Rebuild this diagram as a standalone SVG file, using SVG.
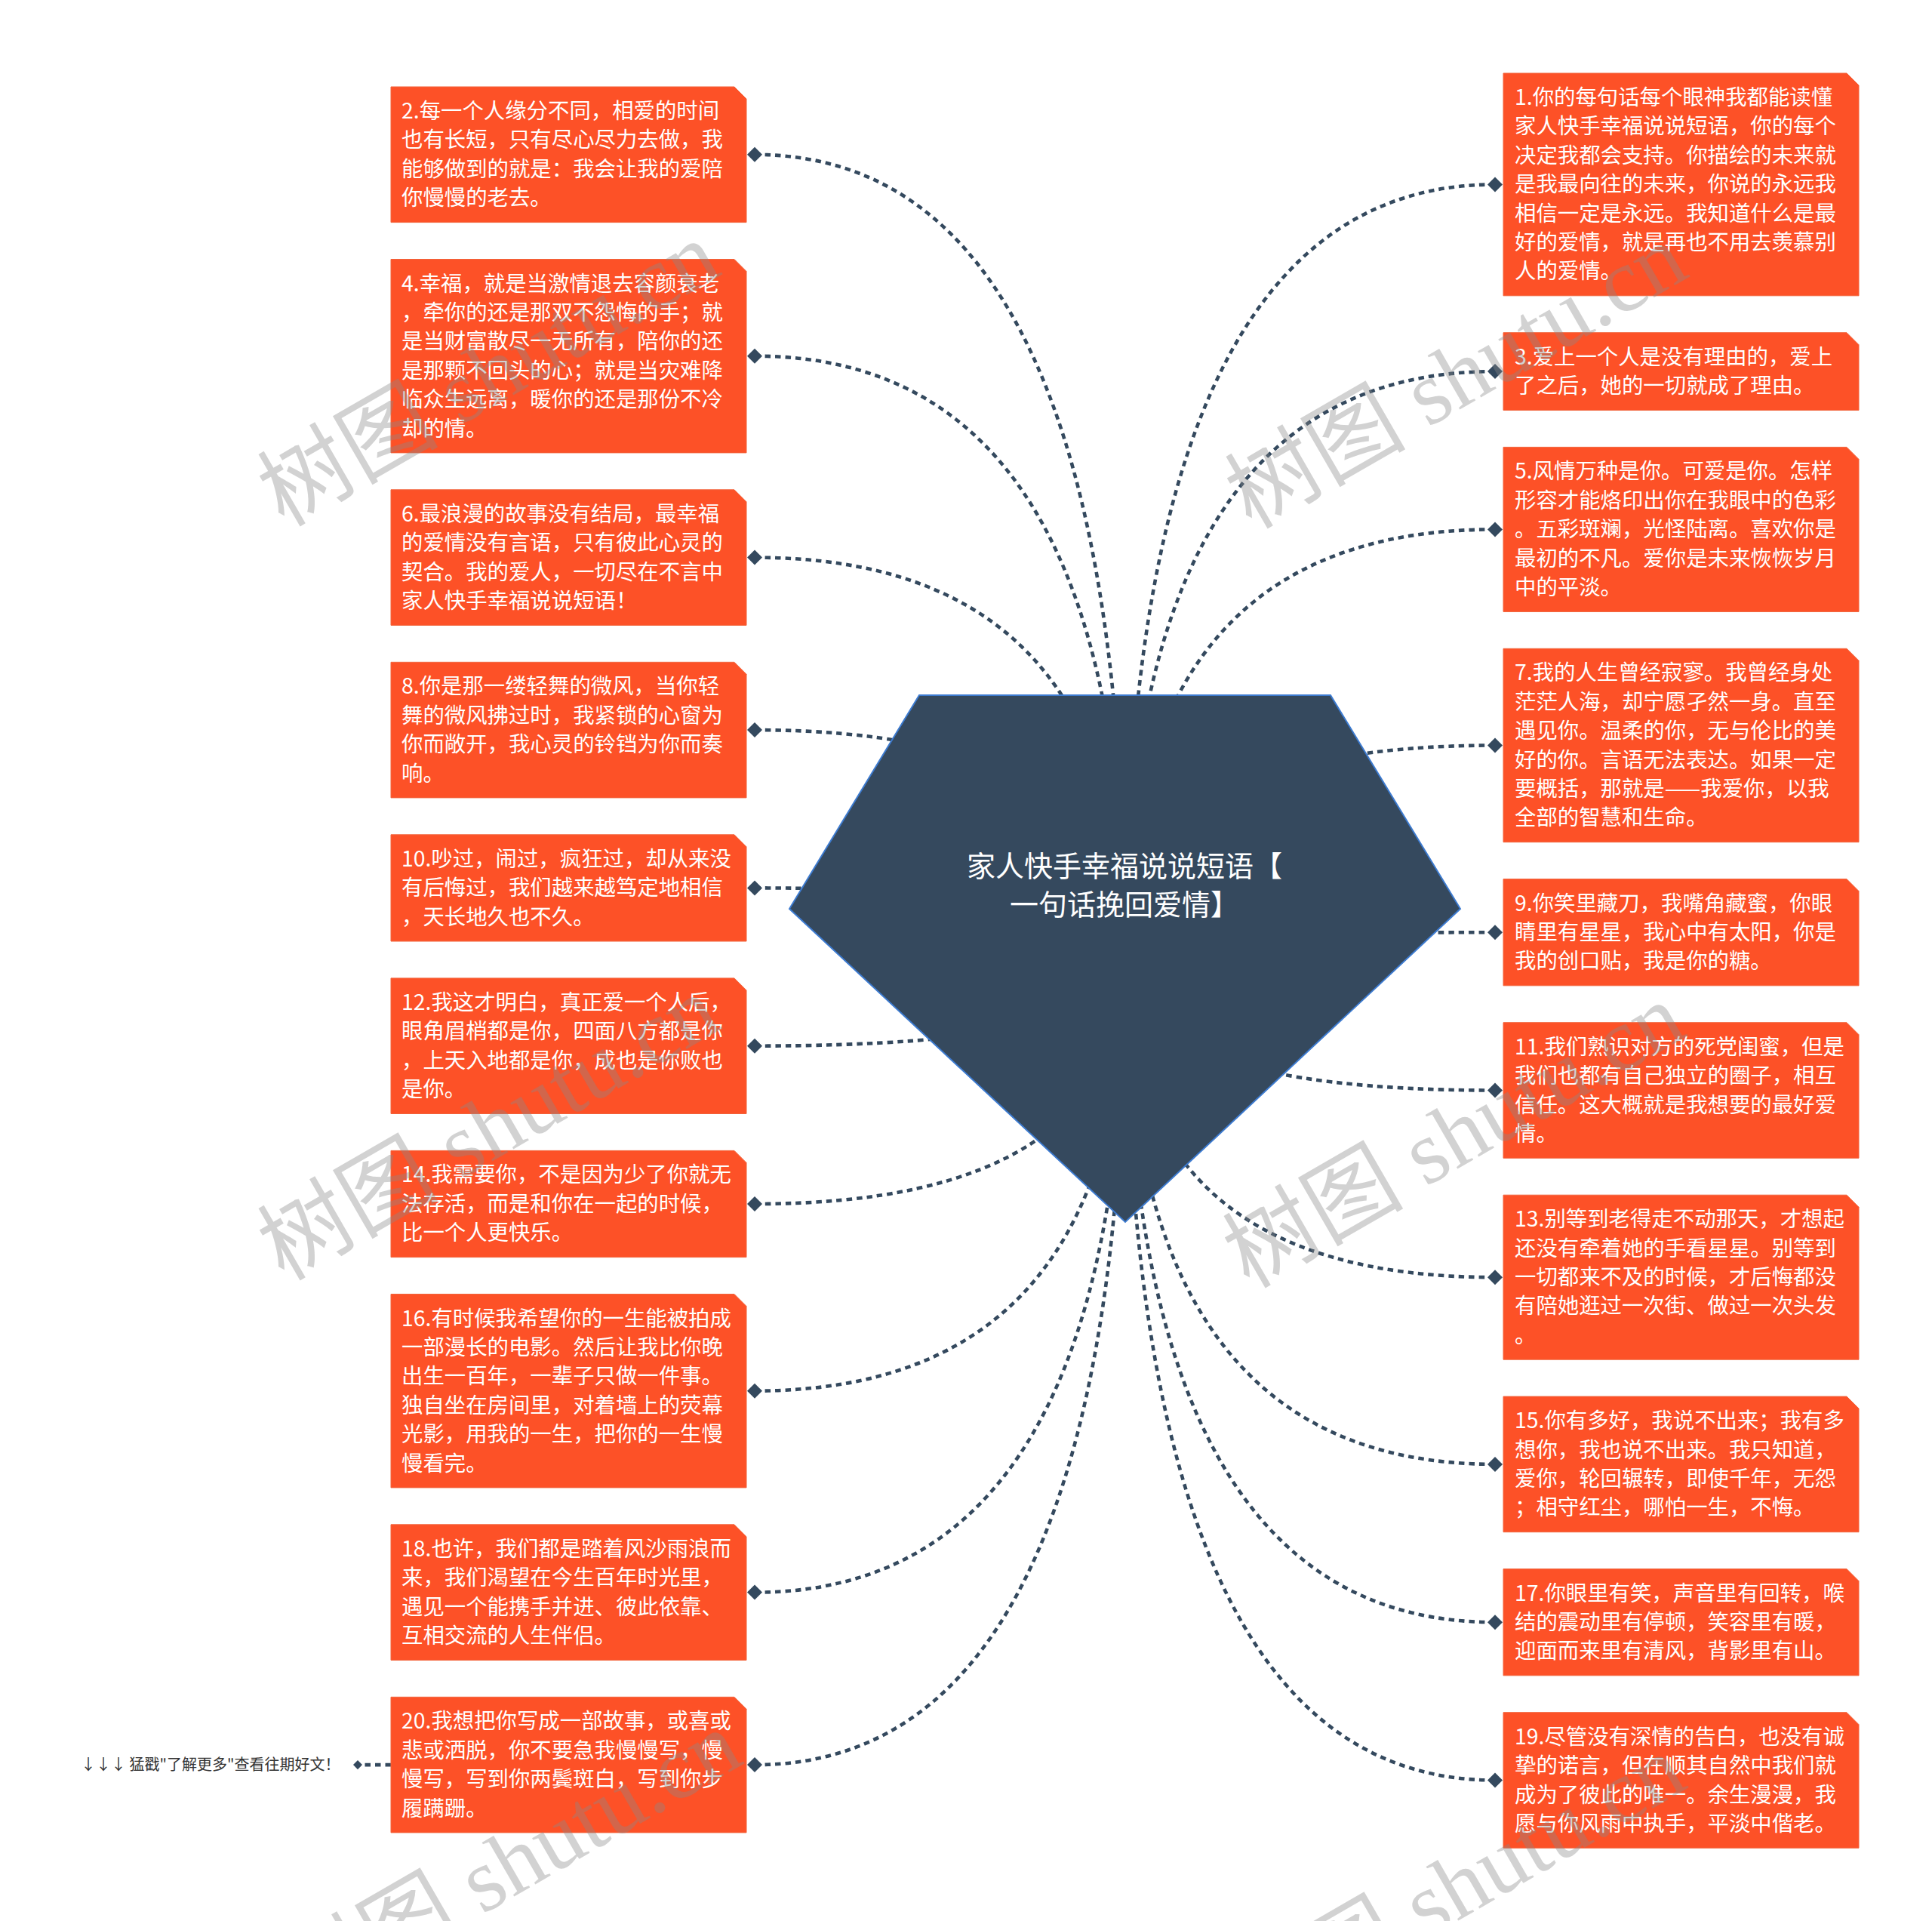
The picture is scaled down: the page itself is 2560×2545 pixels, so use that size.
<svg xmlns="http://www.w3.org/2000/svg" width="2560" height="2545" viewBox="0 0 2560 2545">
<defs>
<style>
.box{fill:#fd5127;stroke:#f2643c;stroke-width:1}
.t{font-family:"Noto Sans CJK SC","Microsoft YaHei",sans-serif;font-size:28.4px;fill:#ffffff}
.conn{fill:none;stroke:#34495e;stroke-width:4.6;stroke-dasharray:7.5 6}
.dia{fill:#34495e}
.ct{font-family:"Noto Sans CJK SC",sans-serif;font-size:38px;fill:#ffffff;text-anchor:middle}
.wm{font-family:"Liberation Serif","Noto Sans CJK SC",serif;font-size:120px;fill:#8a8a8a;fill-opacity:0.38}
.tip{font-family:"Noto Sans CJK SC",sans-serif;font-size:20px;fill:#333333}
</style>
<path id="d" d="M0,-10 L10,0 L0,10 L-10,0 Z"/>
</defs>
<rect width="2560" height="2545" fill="#ffffff"/>
<g id="connectors">
<path class="conn" d="M1000,204.8 Q1491,204.8 1491,1270"/>
<path class="conn" d="M1000,471.7 Q1491,471.7 1491,1270"/>
<path class="conn" d="M1000,738.6 Q1491,738.6 1491,1270"/>
<path class="conn" d="M1000,967.1 Q1491,967.1 1491,1270"/>
<path class="conn" d="M1000,1176.4 Q1491,1176.4 1491,1270"/>
<path class="conn" d="M1000,1385.7 Q1491,1385.7 1491,1270"/>
<path class="conn" d="M1000,1595 Q1491,1595 1491,1270"/>
<path class="conn" d="M1000,1842.7 Q1491,1842.7 1491,1270"/>
<path class="conn" d="M1000,2109.6 Q1491,2109.6 1491,1270"/>
<path class="conn" d="M1000,2338.1 Q1491,2338.1 1491,1270"/>
<path class="conn" d="M1981,244.4 Q1491,244.4 1491,1270"/>
<path class="conn" d="M1981,492.1 Q1491,492.1 1491,1270"/>
<path class="conn" d="M1981,701.4 Q1491,701.4 1491,1270"/>
<path class="conn" d="M1981,987.5 Q1491,987.5 1491,1270"/>
<path class="conn" d="M1981,1235.2 Q1491,1235.2 1491,1270"/>
<path class="conn" d="M1981,1444.5 Q1491,1444.5 1491,1270"/>
<path class="conn" d="M1981,1692.2 Q1491,1692.2 1491,1270"/>
<path class="conn" d="M1981,1939.9 Q1491,1939.9 1491,1270"/>
<path class="conn" d="M1981,2149.2 Q1491,2149.2 1491,1270"/>
<path class="conn" d="M1981,2358.5 Q1491,2358.5 1491,1270"/>
<path class="conn" d="M518,2338.1 L474,2338.1"/>
<use href="#d" class="dia" x="1000" y="204.8"/>
<use href="#d" class="dia" x="1000" y="471.7"/>
<use href="#d" class="dia" x="1000" y="738.6"/>
<use href="#d" class="dia" x="1000" y="967.1"/>
<use href="#d" class="dia" x="1000" y="1176.4"/>
<use href="#d" class="dia" x="1000" y="1385.7"/>
<use href="#d" class="dia" x="1000" y="1595"/>
<use href="#d" class="dia" x="1000" y="1842.7"/>
<use href="#d" class="dia" x="1000" y="2109.6"/>
<use href="#d" class="dia" x="1000" y="2338.1"/>
<use href="#d" class="dia" x="1981" y="244.4"/>
<use href="#d" class="dia" x="1981" y="492.1"/>
<use href="#d" class="dia" x="1981" y="701.4"/>
<use href="#d" class="dia" x="1981" y="987.5"/>
<use href="#d" class="dia" x="1981" y="1235.2"/>
<use href="#d" class="dia" x="1981" y="1444.5"/>
<use href="#d" class="dia" x="1981" y="1692.2"/>
<use href="#d" class="dia" x="1981" y="1939.9"/>
<use href="#d" class="dia" x="1981" y="2149.2"/>
<use href="#d" class="dia" x="1981" y="2358.5"/>
<path class="dia" d="M474,2332 L480,2338.1 L474,2344.2 L468,2338.1 Z"/>
</g>
<g id="center">
<path d="M1218,921 L1763,921 L1935,1204 L1491,1619 L1046,1204 Z" fill="#35495e" stroke="#3d7bd0" stroke-width="2"/>
<text class="ct" x="1490" y="1161">家人快手幸福说说短语【</text>
<text class="ct" x="1490" y="1212">一句话挽回爱情】</text>
</g>
<g id="n2"><path class="box" d="M518,115 H973 L989,131 V294.6 H518 Z"/>
<text class="t"><tspan x="532" y="157">2.每一个人缘分不同，相爱的时间</tspan><tspan x="532" y="195.4">也有长短，只有尽心尽力去做，我</tspan><tspan x="532" y="233.8">能够做到的就是：我会让我的爱陪</tspan><tspan x="532" y="272.2">你慢慢的老去。</tspan></text></g>
<g id="n4"><path class="box" d="M518,343.5 H973 L989,359.5 V599.9 H518 Z"/>
<text class="t"><tspan x="532" y="385.5">4.幸福，就是当激情退去容颜衰老</tspan><tspan x="532" y="423.9">，牵你的还是那双不怨悔的手；就</tspan><tspan x="532" y="462.3">是当财富散尽一无所有，陪你的还</tspan><tspan x="532" y="500.7">是那颗不回头的心；就是当灾难降</tspan><tspan x="532" y="539.1">临众生远离，暖你的还是那份不冷</tspan><tspan x="532" y="577.5">却的情。</tspan></text></g>
<g id="n6"><path class="box" d="M518,648.8 H973 L989,664.8 V828.4 H518 Z"/>
<text class="t"><tspan x="532" y="690.8">6.最浪漫的故事没有结局，最幸福</tspan><tspan x="532" y="729.2">的爱情没有言语，只有彼此心灵的</tspan><tspan x="532" y="767.6">契合。我的爱人，一切尽在不言中</tspan><tspan x="532" y="806">家人快手幸福说说短语！</tspan></text></g>
<g id="n8"><path class="box" d="M518,877.3 H973 L989,893.3 V1056.9 H518 Z"/>
<text class="t"><tspan x="532" y="919.3">8.你是那一缕轻舞的微风，当你轻</tspan><tspan x="532" y="957.7">舞的微风拂过时，我紧锁的心窗为</tspan><tspan x="532" y="996.1">你而敞开，我心灵的铃铛为你而奏</tspan><tspan x="532" y="1034.5">响。</tspan></text></g>
<g id="n10"><path class="box" d="M518,1105.8 H973 L989,1121.8 V1247 H518 Z"/>
<text class="t"><tspan x="532" y="1147.8">10.吵过，闹过，疯狂过，却从来没</tspan><tspan x="532" y="1186.2">有后悔过，我们越来越笃定地相信</tspan><tspan x="532" y="1224.6">，天长地久也不久。</tspan></text></g>
<g id="n12"><path class="box" d="M518,1295.9 H973 L989,1311.9 V1475.5 H518 Z"/>
<text class="t"><tspan x="532" y="1337.9">12.我这才明白，真正爱一个人后，</tspan><tspan x="532" y="1376.3">眼角眉梢都是你，四面八方都是你</tspan><tspan x="532" y="1414.7">，上天入地都是你，成也是你败也</tspan><tspan x="532" y="1453.1">是你。</tspan></text></g>
<g id="n14"><path class="box" d="M518,1524.4 H973 L989,1540.4 V1665.6 H518 Z"/>
<text class="t"><tspan x="532" y="1566.4">14.我需要你，不是因为少了你就无</tspan><tspan x="532" y="1604.8">法存活，而是和你在一起的时候，</tspan><tspan x="532" y="1643.2">比一个人更快乐。</tspan></text></g>
<g id="n16"><path class="box" d="M518,1714.5 H973 L989,1730.5 V1970.9 H518 Z"/>
<text class="t"><tspan x="532" y="1756.5">16.有时候我希望你的一生能被拍成</tspan><tspan x="532" y="1794.9">一部漫长的电影。然后让我比你晚</tspan><tspan x="532" y="1833.3">出生一百年，一辈子只做一件事。</tspan><tspan x="532" y="1871.7">独自坐在房间里，对着墙上的荧幕</tspan><tspan x="532" y="1910.1">光影，用我的一生，把你的一生慢</tspan><tspan x="532" y="1948.5">慢看完。</tspan></text></g>
<g id="n18"><path class="box" d="M518,2019.8 H973 L989,2035.8 V2199.4 H518 Z"/>
<text class="t"><tspan x="532" y="2061.8">18.也许，我们都是踏着风沙雨浪而</tspan><tspan x="532" y="2100.2">来，我们渴望在今生百年时光里，</tspan><tspan x="532" y="2138.6">遇见一个能携手并进、彼此依靠、</tspan><tspan x="532" y="2177">互相交流的人生伴侣。</tspan></text></g>
<g id="n20"><path class="box" d="M518,2248.3 H973 L989,2264.3 V2427.9 H518 Z"/>
<text class="t"><tspan x="532" y="2290.3">20.我想把你写成一部故事，或喜或</tspan><tspan x="532" y="2328.7">悲或洒脱，你不要急我慢慢写，慢</tspan><tspan x="532" y="2367.1">慢写，写到你两鬓斑白，写到你步</tspan><tspan x="532" y="2405.5">履蹒跚。</tspan></text></g>
<g id="tip"><text class="tip" x="107" y="2345">↓↓↓ 猛戳"了解更多"查看往期好文！</text></g>
<g id="n1"><path class="box" d="M1992,97 H2447 L2463,113 V391.8 H1992 Z"/>
<text class="t"><tspan x="2007" y="139">1.你的每句话每个眼神我都能读懂</tspan><tspan x="2007" y="177.4">家人快手幸福说说短语，你的每个</tspan><tspan x="2007" y="215.8">决定我都会支持。你描绘的未来就</tspan><tspan x="2007" y="254.2">是我最向往的未来，你说的永远我</tspan><tspan x="2007" y="292.6">相信一定是永远。我知道什么是最</tspan><tspan x="2007" y="331">好的爱情，就是再也不用去羡慕别</tspan><tspan x="2007" y="369.4">人的爱情。</tspan></text></g>
<g id="n3"><path class="box" d="M1992,440.7 H2447 L2463,456.7 V543.5 H1992 Z"/>
<text class="t"><tspan x="2007" y="482.7">3.爱上一个人是没有理由的，爱上</tspan><tspan x="2007" y="521.1">了之后，她的一切就成了理由。</tspan></text></g>
<g id="n5"><path class="box" d="M1992,592.4 H2447 L2463,608.4 V810.4 H1992 Z"/>
<text class="t"><tspan x="2007" y="634.4">5.风情万种是你。可爱是你。怎样</tspan><tspan x="2007" y="672.8">形容才能烙印出你在我眼中的色彩</tspan><tspan x="2007" y="711.2">。五彩斑斓，光怪陆离。喜欢你是</tspan><tspan x="2007" y="749.6">最初的不凡。爱你是未来恢恢岁月</tspan><tspan x="2007" y="788">中的平淡。</tspan></text></g>
<g id="n7"><path class="box" d="M1992,859.3 H2447 L2463,875.3 V1115.7 H1992 Z"/>
<text class="t"><tspan x="2007" y="901.3">7.我的人生曾经寂寥。我曾经身处</tspan><tspan x="2007" y="939.7">茫茫人海，却宁愿孑然一身。直至</tspan><tspan x="2007" y="978.1">遇见你。温柔的你，无与伦比的美</tspan><tspan x="2007" y="1016.5">好的你。言语无法表达。如果一定</tspan><tspan x="2007" y="1054.9">要概括，那就是——我爱你，以我</tspan><tspan x="2007" y="1093.3">全部的智慧和生命。</tspan></text></g>
<g id="n9"><path class="box" d="M1992,1164.6 H2447 L2463,1180.6 V1305.8 H1992 Z"/>
<text class="t"><tspan x="2007" y="1206.6">9.你笑里藏刀，我嘴角藏蜜，你眼</tspan><tspan x="2007" y="1245">睛里有星星，我心中有太阳，你是</tspan><tspan x="2007" y="1283.4">我的创口贴，我是你的糖。</tspan></text></g>
<g id="n11"><path class="box" d="M1992,1354.7 H2447 L2463,1370.7 V1534.3 H1992 Z"/>
<text class="t"><tspan x="2007" y="1396.7">11.我们熟识对方的死党闺蜜，但是</tspan><tspan x="2007" y="1435.1">我们也都有自己独立的圈子，相互</tspan><tspan x="2007" y="1473.5">信任。这大概就是我想要的最好爱</tspan><tspan x="2007" y="1511.9">情。</tspan></text></g>
<g id="n13"><path class="box" d="M1992,1583.2 H2447 L2463,1599.2 V1801.2 H1992 Z"/>
<text class="t"><tspan x="2007" y="1625.2">13.别等到老得走不动那天，才想起</tspan><tspan x="2007" y="1663.6">还没有牵着她的手看星星。别等到</tspan><tspan x="2007" y="1702">一切都来不及的时候，才后悔都没</tspan><tspan x="2007" y="1740.4">有陪她逛过一次街、做过一次头发</tspan><tspan x="2007" y="1778.8">。</tspan></text></g>
<g id="n15"><path class="box" d="M1992,1850.1 H2447 L2463,1866.1 V2029.7 H1992 Z"/>
<text class="t"><tspan x="2007" y="1892.1">15.你有多好，我说不出来；我有多</tspan><tspan x="2007" y="1930.5">想你，我也说不出来。我只知道，</tspan><tspan x="2007" y="1968.9">爱你，轮回辗转，即使千年，无怨</tspan><tspan x="2007" y="2007.3">；相守红尘，哪怕一生，不悔。</tspan></text></g>
<g id="n17"><path class="box" d="M1992,2078.6 H2447 L2463,2094.6 V2219.8 H1992 Z"/>
<text class="t"><tspan x="2007" y="2120.6">17.你眼里有笑，声音里有回转，喉</tspan><tspan x="2007" y="2159">结的震动里有停顿，笑容里有暖，</tspan><tspan x="2007" y="2197.4">迎面而来里有清风，背影里有山。</tspan></text></g>
<g id="n19"><path class="box" d="M1992,2268.7 H2447 L2463,2284.7 V2448.3 H1992 Z"/>
<text class="t"><tspan x="2007" y="2310.7">19.尽管没有深情的告白，也没有诚</tspan><tspan x="2007" y="2349.1">挚的诺言，但在顺其自然中我们就</tspan><tspan x="2007" y="2387.5">成为了彼此的唯一。余生漫漫，我</tspan><tspan x="2007" y="2425.9">愿与你风雨中执手，平淡中偕老。</tspan></text></g>
<g id="watermark">
<text class="wm" x="376" y="699" transform="rotate(-30 376 699)">树图 shutu.cn</text>
<text class="wm" x="1658" y="702" transform="rotate(-30 1658 702)">树图 shutu.cn</text>
<text class="wm" x="376" y="1698" transform="rotate(-30 376 1698)">树图 shutu.cn</text>
<text class="wm" x="1655" y="1708" transform="rotate(-30 1655 1708)">树图 shutu.cn</text>
<text class="wm" x="405" y="2672" transform="rotate(-30 405 2672)">树图 shutu.cn</text>
<text class="wm" x="1656" y="2704" transform="rotate(-30 1656 2704)">树图 shutu.cn</text>
</g>
</svg>
